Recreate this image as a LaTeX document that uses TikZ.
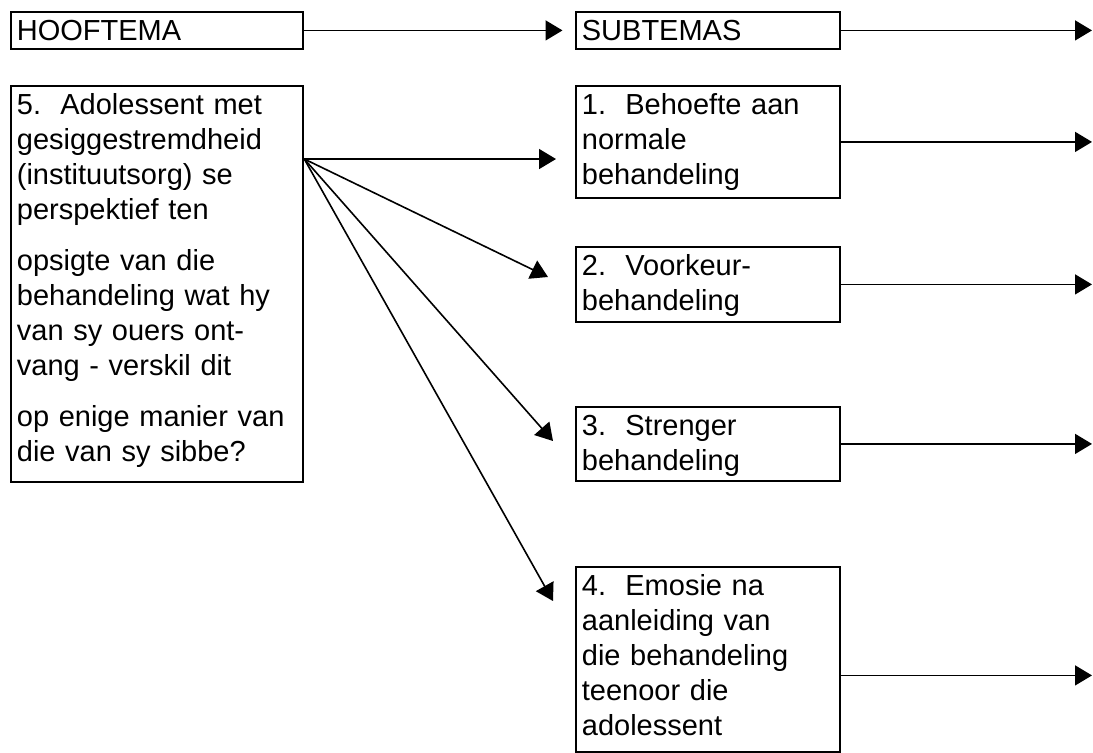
\documentclass[tikz,border=0pt]{standalone}
\usepackage{fontspec}
\setmainfont{Liberation Sans}
\usetikzlibrary{arrows.meta,calc}

\begin{document}
\begin{tikzpicture}[
    x = 0.5pt, y = -0.5pt,
    tema/.style = {draw, line width = 1.4pt, anchor = north west, align = left,
        inner xsep = 3pt, inner ysep = 0.5pt, text height = 14pt,
        font = \fontsize{14.5}{17.5}\selectfont},
    link/.style = {line width = 0.8pt, -{Triangle[length = 8.5pt, width = 10pt]}}
]
\useasboundingbox (0,0) rectangle (1093,752);
\node[tema] (hoof) at (9.5,10.5) [text width = 140pt, text depth = 3.5pt] {HOOFTEMA};
\node[tema] (subtema) at (574.5,10.5) [text width = 126pt, text depth = 3.5pt] {SUBTEMAS};
\node[tema] (main) at (9.5,84.5) [text width = 140pt, text depth = 183pt] {5.\ \ Adolessent met\\ gesiggestremdheid\\ (instituutsorg) se\\ perspektief ten\\[8pt] opsigte van die\\ behandeling wat hy\\ van sy ouers ont-\\ vang - verskil dit\\[8pt] op enige manier van\\ die van sy sibbe?};
\node[tema] (sub1) at (574.5,84.5) [text width = 126pt, text depth = 41pt] {1.\ \ Behoefte aan\\ normale\\ behandeling};
\node[tema] (sub2) at (574.5,245.5) [text width = 126pt, text depth = 22.5pt] {2.\ \ Voorkeur-\\ behandeling};
\node[tema] (sub3) at (574.5,405.5) [text width = 126pt, text depth = 22pt] {3.\ \ Strenger\\ behandeling};
\node[tema] (sub4) at (574.5,565.5) [text width = 126pt, text depth = 77.5pt] {4.\ \ Emosie na\\ aanleiding van\\ die behandeling\\ teenoor die\\ adolessent};
% ends of the arrows
\coordinate (rim) at (1092,0);
\coordinate (fan) at ($(main.north east)+(0,74.5)$);
\coordinate (tip1) at (556,159);
\coordinate (tip2) at (548,277);
\coordinate (tip3) at (553,441);
\coordinate (tip4) at (553,601);
\coordinate (out4) at ($(sub4.east)+(0,16)$);
% arrows
\path[link]
(hoof) edge[shorten >= 6pt] (subtema)
(subtema) edge (subtema.east -| rim)
(fan) edge (tip1)
(fan) edge (tip2)
(fan) edge (tip3)
(fan) edge (tip4)
(sub1) edge (sub1.east -| rim)
(sub2) edge (sub2.east -| rim)
(sub3) edge (sub3.east -| rim)
(out4) edge (out4 -| rim)
;
\end{tikzpicture}
\end{document}
